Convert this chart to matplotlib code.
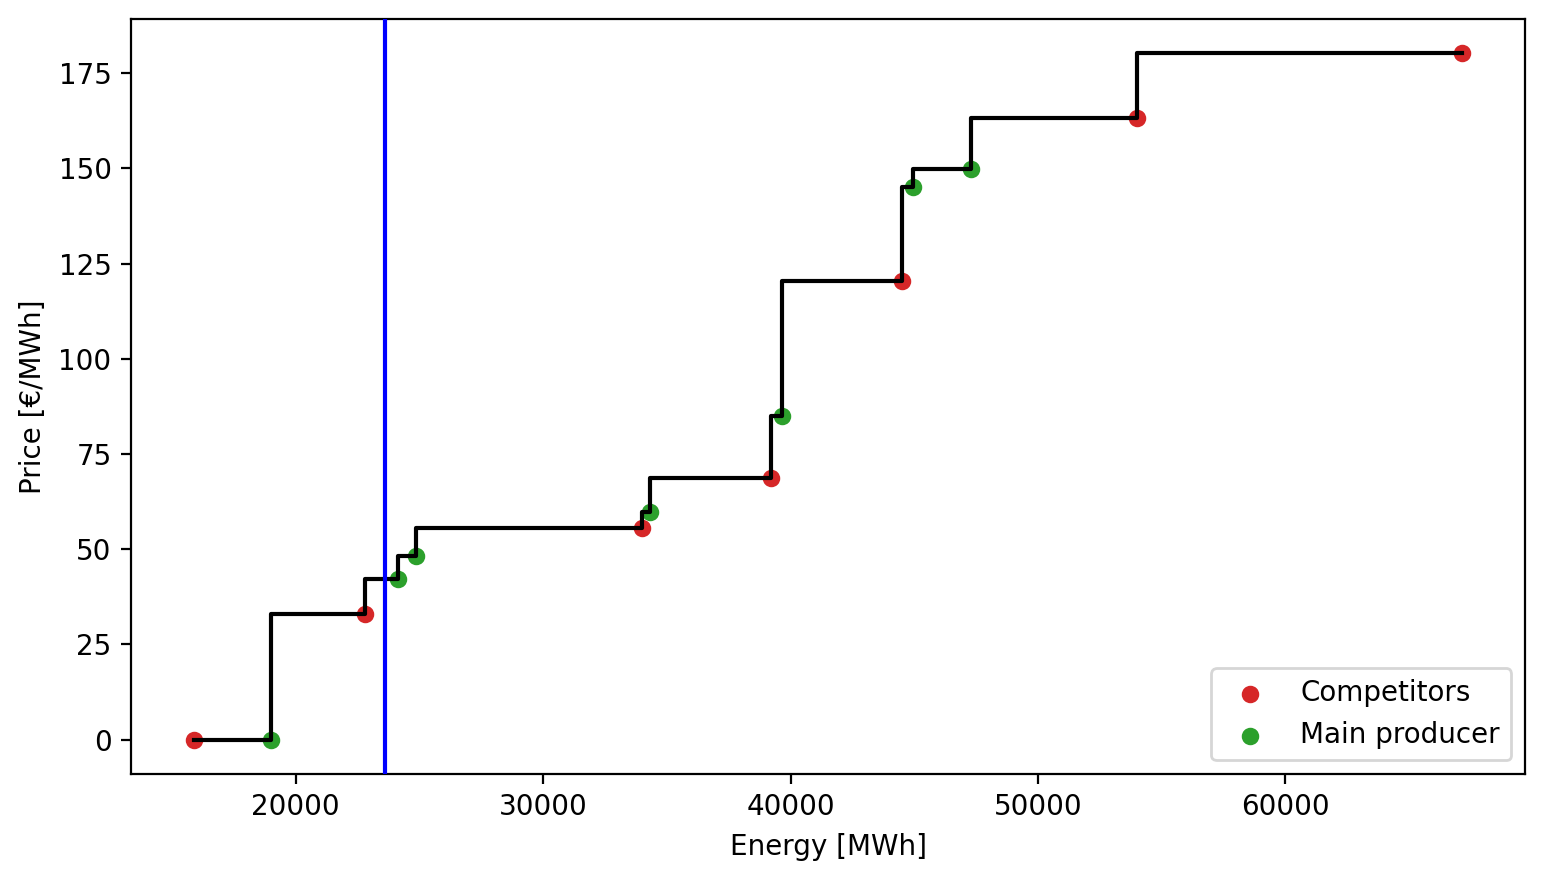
import matplotlib
matplotlib.use("Agg")
import matplotlib.pyplot as plt
import numpy as np

# Supply curve points (energy, price) and owner
energy = [15900, 19000, 22800, 24120, 24840, 34000, 34320, 39200, 39640, 44500, 44940, 47300, 54000, 67120]
price = [0.0, 0.0, 33.1, 42.3, 48.3, 55.7, 59.9, 68.6, 85.1, 120.3, 145.0, 149.9, 163.2, 180.2]
owner = ["C", "M", "C", "M", "M", "C", "M", "C", "M", "C", "M", "M", "C", "C"]
demand = 23620

energy = np.array(energy)
price = np.array(price)
owner = np.array(owner)

fig = plt.figure(figsize=(7.73, 4.405), dpi=200)
ax = fig.add_axes([131/1546, 1-774/881, (1525-131)/1546, (774-19)/881])

comp = owner == "C"
main = owner == "M"
ax.scatter(energy[comp], price[comp], color="tab:red", s=28, label="Competitors", zorder=2)
ax.scatter(energy[main], price[main], color="tab:green", s=28, label="Main producer", zorder=2)
ax.step(energy, price, where="pre", color="black", linewidth=1.5, zorder=3)
ax.axvline(demand, color="blue", linewidth=1.5, zorder=4)

ax.set_xlabel("Energy [MWh]")
ax.set_ylabel("Price [€/MWh]")
ax.legend(loc="lower right")

fig.savefig("out.png", dpi=200)
